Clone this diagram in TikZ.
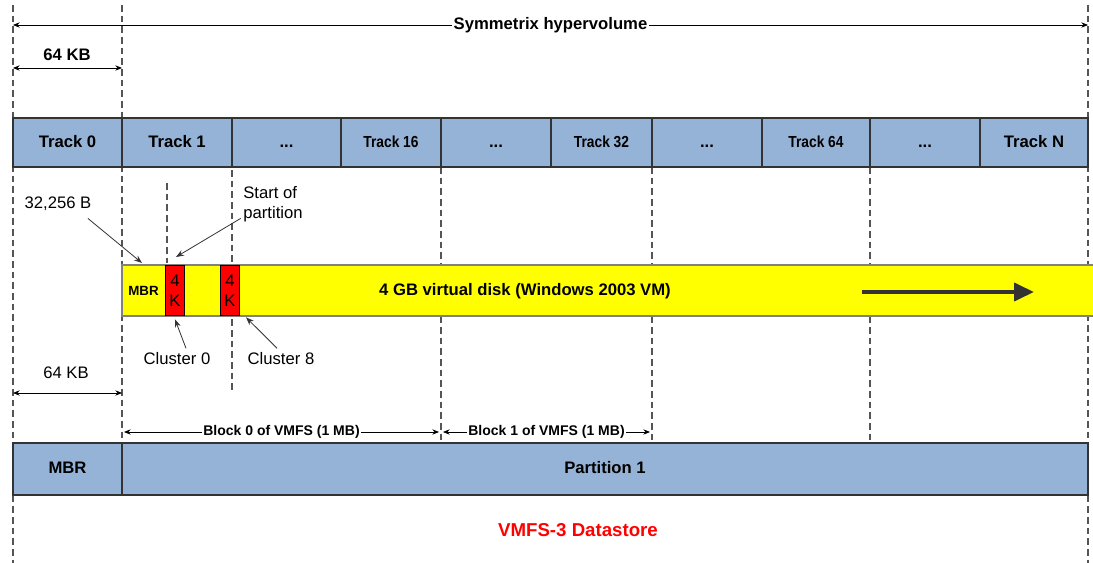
\documentclass[tikz,border=0pt]{standalone}
\usepackage{fontspec}
\setmainfont{Liberation Sans}
\newfontfamily\narrowsf[FakeStretch=0.86]{Liberation Sans}
\usetikzlibrary{arrows.meta}
\definecolor{trackblue}{RGB}{149,179,215}
\definecolor{guidegray}{RGB}{85,85,85}
\definecolor{diskyellow}{RGB}{255,255,0}
\definecolor{clusterred}{RGB}{255,0,0}

\begin{document}
\begin{tikzpicture}[x=0.75pt, y=-0.75pt]
\tikzset{
	track/.style={draw=black!80,
		fill=trackblue,
		line width=0.8pt,
		minimum width=#1*0.75pt, % cell width in pixels of the layout
		minimum height=36.75pt,
		text height=9pt,
		text depth=2pt,
		outer sep=0pt,
		font=\fontsize{12.5}{15}\selectfont\bfseries},
	narrowtrack/.style={track=#1, font=\narrowsf\fontsize{12}{15}\selectfont\bfseries},
	guide/.style={draw=guidegray, line width=0.8pt, dash pattern=on 5pt off 3pt},
	dim/.style={{Stealth[length=5pt,width=4pt]}-{Stealth[length=5pt,width=4pt]}, line width=0.6pt},
	ptr/.style={-{Stealth[length=6pt,width=4.5pt]}, line width=0.6pt, draw=black!80},
	note/.style={inner sep=1pt, font=\fontsize{12.5}{15}\selectfont},
	boldnote/.style={inner sep=1pt, font=\fontsize{12.5}{15}\selectfont\bfseries},
	dimlabel/.style={midway, fill=white, inner sep=1pt, font=\fontsize{10.5}{12}\selectfont\bfseries},
	kbox/.style={draw=black, fill=clusterred, minimum width=14.25pt, minimum height=38pt, inner sep=0pt,
		line width=0.8pt, align=center, font=\fontsize{12.5}{15}\selectfont}
}
\useasboundingbox (0,0) rectangle (1093,563);

\draw[guide] (13,5) -- (13,563);
\draw[guide] (122,5) -- (122,443);
\draw[guide] (167,183) -- (167,263);
\draw[guide] (232,170) -- (232,390);
\draw[guide] (441,167) -- (441,443);
\draw[guide] (652,167) -- (652,443);
\draw[guide] (870,167) -- (870,443);
\draw[guide] (1088,5) -- (1088,563);

\coordinate (hvL) at (13,25);
\coordinate (hvR) at (1088,25);
{\draw[dim] (hvL) -- (hvR) node[midway, fill=white, inner sep=1pt, font=\fontsize{12.5}{15}\selectfont\bfseries] (hvlbl) {Symmetrix hypervolume};}
\node[boldnote] (kbtop) at (67,55) {64 KB};
\coordinate (kbtopL) at (13,68);
\coordinate (kbtopR) at (122,68);
{\draw[dim] (kbtopL) -- (kbtopR);}

\node[track=109] (t0) at (67.5,142.5) {Track 0};
\node[track=110] (t1) at (177,142.5) {Track 1};
\node[track=109] (tdots1) at (286.5,142.5) {...};
\node[narrowtrack=100] (t16) at (391,142.5) {Track 16};
\node[track=110] (tdots2) at (496,142.5) {...};
\node[narrowtrack=101] (t32) at (601.5,142.5) {Track 32};
\node[track=110] (tdots3) at (707,142.5) {...};
\node[narrowtrack=108] (t64) at (816,142.5) {Track 64};
\node[track=110] (tdots4) at (925,142.5) {...};
\node[track=108] (tN) at (1034,142.5) {Track N};

\draw[draw=black!50, fill=diskyellow, line width=0.8pt] (122,265) rectangle (1100,316);
\node[inner sep=1pt, font=\fontsize{10}{12}\selectfont\bfseries] (vmbr) at (143.5,291) {MBR};
\node[kbox] (c0box) at (175,290.5) {4\\K};
\node[kbox] (c8box) at (230,290.5) {4\\K};
\node[boldnote] (vdisk) at (525,291) {4 GB virtual disk (Windows 2003 VM)};
\coordinate (flowS) at (862,292);
\coordinate (flowE) at (1034,292);
{\draw[-{Triangle[length=15pt,width=13.5pt]}, line width=3pt, draw=black!80] (flowS) -- (flowE);}

\node[note] (lbl32) at (58,204) {32,256 B};
\coordinate (mbrtip) at (142,263);
{\draw[ptr] ([shift={(-5,6)}]lbl32.south east) -- (mbrtip);}
\node[note, align=left] (sop) at (273,204) {Start of\\partition};
\coordinate (soptip) at (176,257);
{\draw[ptr] ([shift={(-1,-5)}]sop.south west) -- (soptip);}
\node[note] (cl0) at (177,359) {Cluster 0};
{\draw[ptr] ([shift={(9,-3)}]cl0.north) -- ([shift={(0,3)}]c0box.south);}
\node[note] (cl8) at (281,359) {Cluster 8};
{\draw[ptr] ([shift={(-4,-3)}]cl8.north) -- ([shift={(6,1)}]c8box.south east);}

\node[note] (kblow) at (66,373) {64 KB};
\coordinate (kblowL) at (13,393);
\coordinate (kblowR) at (122,393);
{\draw[dim] (kblowL) -- (kblowR);}

\coordinate (b0L) at (124,432);
\coordinate (b0R) at (439,432);
\coordinate (b1L) at (443,432);
\coordinate (b1R) at (650,432);
{\draw[dim] (b0L) -- (b0R) node[dimlabel] (b0lbl) {Block 0 of VMFS (1 MB)};}
{\draw[dim] (b1L) -- (b1R) node[dimlabel] (b1lbl) {Block 1 of VMFS (1 MB)};}

\node[track=109, minimum height=39pt] (mbr) at (67.5,469) {MBR};
\node[track=966, minimum height=39pt] (part1) at (605,469) {Partition 1};

\node[font=\fontsize{14}{17}\selectfont\bfseries, text=clusterred] (dstore) at (578,530) {VMFS-3 Datastore};
\end{tikzpicture}
\end{document}
